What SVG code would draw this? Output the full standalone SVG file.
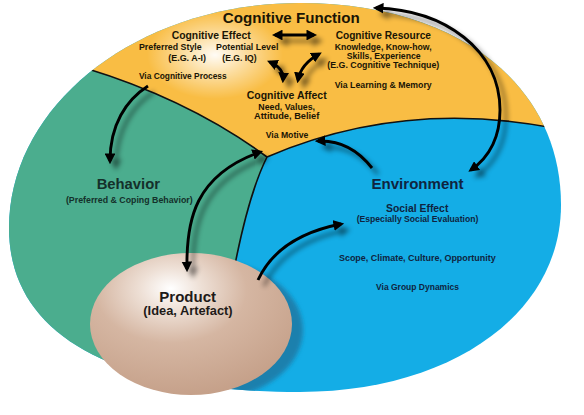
<svg xmlns="http://www.w3.org/2000/svg" width="584" height="415" viewBox="0 0 584 415">
<defs>
<style>
text { font-family: "Liberation Sans", Arial, sans-serif; font-weight: bold; text-anchor: middle; }
.t1 { font-size: 15px; }
.t2 { font-size: 11px; }
.t3 { font-size: 9.2px; }
.dk { fill: #1a1505; }
.nv { fill: #0f2440; }
.gr { fill: #14302a; }
.pr { fill: #1e1a18; }
.edge { fill: none; stroke: #111; stroke-width: 1.6; }
.arr { fill: none; stroke: #000; stroke-width: 2.9; }
</style>
<path id="outline" d="M300,3 C456.6,3 561,83.8 561,205 C561,313.5 451.4,392 300,392 C111.9,392 9,334.6 9,228 C9,103.7 139.3,3 300,3 Z"/>
<clipPath id="clip"><use href="#outline"/></clipPath>
<marker id="ah" viewBox="0 0 10 10" refX="7" refY="5" markerWidth="3.7" markerHeight="3.7" orient="auto-start-reverse" markerUnits="strokeWidth"><path d="M0,0 L10,5 L0,10 Z" fill="#000"/></marker>
<filter id="blur" x="-30%" y="-30%" width="160%" height="160%"><feGaussianBlur stdDeviation="2.8"/></filter>
<filter id="blur2" x="-20%" y="-20%" width="140%" height="140%"><feGaussianBlur stdDeviation="2"/></filter>
<radialGradient id="glow" cx="0.5" cy="0.5" r="0.5">
<stop offset="0" stop-color="#fff" stop-opacity="0.95"/>
<stop offset="0.45" stop-color="#fff" stop-opacity="0.5"/>
<stop offset="1" stop-color="#fff" stop-opacity="0"/>
</radialGradient>
<radialGradient id="pg" cx="0.4" cy="0.27" r="0.75" fx="0.4" fy="0.25">
<stop offset="0" stop-color="#ffffff"/>
<stop offset="0.2" stop-color="#eee0d6"/>
<stop offset="0.5" stop-color="#d5b6a2"/>
<stop offset="1" stop-color="#c5a089"/>
</radialGradient>
</defs>

<g id="environment">
<use href="#outline" fill="#14ade6"/>
<text class="t1 nv" x="417.5" y="189" textLength="92" lengthAdjust="spacingAndGlyphs">Environment</text>
<text class="t2 nv" x="417.2" y="211.7" textLength="62.3" lengthAdjust="spacingAndGlyphs">Social Effect</text>
<text class="t3 nv" x="417.5" y="221.7" textLength="121.7" lengthAdjust="spacingAndGlyphs">(Especially Social Evaluation)</text>
<text class="t3 nv" x="417.3" y="260.7" textLength="156.7" lengthAdjust="spacingAndGlyphs">Scope, Climate, Culture, Opportunity</text>
</g>

<g id="cognitive-function">
<path clip-path="url(#clip)" fill="#f9bd44" d="M-10,40 L85,68 Q190,100 267,157 Q400,100 548,127 L600,137 L600,-10 L-10,-10 Z"/>
<ellipse cx="215" cy="55" rx="68" ry="44" fill="url(#glow)"/>
<text class="t1 dk" x="291.3" y="23.3" textLength="137" lengthAdjust="spacingAndGlyphs">Cognitive Function</text>
<text class="t2 dk" x="211.2" y="39.3" textLength="79" lengthAdjust="spacingAndGlyphs">Cognitive Effect</text>
<text class="t3 dk" x="170.3" y="50" textLength="62.7" lengthAdjust="spacingAndGlyphs">Preferred Style</text>
<text class="t3 dk" x="247.2" y="50" textLength="62.3" lengthAdjust="spacingAndGlyphs">Potential Level</text>
<text class="t3 dk" x="187.2" y="60.7" textLength="37.7" lengthAdjust="spacingAndGlyphs">(E.G. A-I)</text>
<text class="t3 dk" x="239.5" y="60.7" textLength="34.3" lengthAdjust="spacingAndGlyphs">(E.G. IQ)</text>
<text class="t2 dk" x="286.7" y="99.3" textLength="80" lengthAdjust="spacingAndGlyphs">Cognitive Affect</text>
<text class="t3 dk" x="286.7" y="110" textLength="56.7" lengthAdjust="spacingAndGlyphs">Need, Values,</text>
<text class="t3 dk" x="286.7" y="119.3" textLength="65.3" lengthAdjust="spacingAndGlyphs">Attitude, Belief</text>
<text class="t2 dk" x="383.3" y="39.3" textLength="95.3" lengthAdjust="spacingAndGlyphs">Cognitive Resource</text>
<text class="t3 dk" x="383.2" y="50" textLength="97" lengthAdjust="spacingAndGlyphs">Knowledge, Know-how,</text>
<text class="t3 dk" x="383.7" y="59.3" textLength="74" lengthAdjust="spacingAndGlyphs">Skills, Experience</text>
<text class="t3 dk" x="383.3" y="68.3" textLength="112" lengthAdjust="spacingAndGlyphs">(E.G. Cognitive Technique)</text>
</g>

<g id="behavior">
<path clip-path="url(#clip)" fill="#4bad8e" d="M-10,40 L85,68 Q190,100 267,157 Q248,195 233,275 L222,410 L-10,410 Z"/>
<text class="t1 gr" x="128.3" y="189.3" textLength="63.3" lengthAdjust="spacingAndGlyphs">Behavior</text>
<text class="t3 gr" x="129.3" y="203.3" textLength="126.7" lengthAdjust="spacingAndGlyphs">(Preferred &amp; Coping Behavior)</text>
</g>

<g id="boundaries" clip-path="url(#clip)">
<path class="edge" d="M85,68 Q190,100 267,157"/>
<path class="edge" d="M267,157 Q400,100 548,127 L565,130"/>
<path class="edge" d="M267,157 Q248,195 233,275 L226,330"/>
</g>

<g id="product">
<ellipse cx="202" cy="330" rx="101" ry="71" fill="#1b80ad" clip-path="url(#clip)" filter="url(#blur2)"/>
<ellipse cx="191" cy="324" rx="101" ry="71" fill="url(#pg)"/>
<text class="t1 pr" x="187.7" y="301.7" textLength="56.7" lengthAdjust="spacingAndGlyphs">Product</text>
<text class="pr" style="font-size:12px" x="188" y="315" textLength="89.3" lengthAdjust="spacingAndGlyphs">(Idea, Artefact)</text>
</g>

<g id="connectors">
<g opacity="0.5" filter="url(#blur)" transform="translate(6,6)">
<path class="arr" d="M275,35 L314,35" marker-start="url(#ah)" marker-end="url(#ah)"/>
<path class="arr" d="M270,62 Q284,68 283,80" marker-start="url(#ah)" marker-end="url(#ah)"/>
<path class="arr" d="M319,54 Q301,64 298,80" marker-start="url(#ah)" marker-end="url(#ah)"/>
<path class="arr" d="M148,86 C126,100 110,125 110,161" marker-end="url(#ah)"/>
<path class="arr" d="M187,269 C186,220 195,175 260,152" marker-start="url(#ah)" marker-end="url(#ah)"/>
<path class="arr" d="M258,280 C272,250 300,232 341,224" marker-end="url(#ah)"/>
<path class="arr" d="M372,168 C358,150 340,140 318,141" marker-end="url(#ah)"/>
<path class="arr" d="M376,8 C445,10 500,50 500,110 C500,140 488,158 471,170" marker-start="url(#ah)" marker-end="url(#ah)"/>
</g>
<path class="arr" d="M275,35 L314,35" marker-start="url(#ah)" marker-end="url(#ah)"/>
<path class="arr" d="M270,62 Q284,68 283,80" marker-start="url(#ah)" marker-end="url(#ah)"/>
<path class="arr" d="M319,54 Q301,64 298,80" marker-start="url(#ah)" marker-end="url(#ah)"/>
<path class="arr" d="M148,86 C126,100 110,125 110,161" marker-end="url(#ah)"/>
<path class="arr" d="M187,269 C186,220 195,175 260,152" marker-start="url(#ah)" marker-end="url(#ah)"/>
<path class="arr" d="M258,280 C272,250 300,232 341,224" marker-end="url(#ah)"/>
<path class="arr" d="M372,168 C358,150 340,140 318,141" marker-end="url(#ah)"/>
<path class="arr" d="M376,8 C445,10 500,50 500,110 C500,140 488,158 471,170" marker-start="url(#ah)" marker-end="url(#ah)"/>
<text class="t3 dk" x="182.8" y="79.3" textLength="87.7" lengthAdjust="spacingAndGlyphs">Via Cognitive Process</text>
<text class="t3 dk" x="287" y="138.3" textLength="42.7" lengthAdjust="spacingAndGlyphs">Via Motive</text>
<text class="t3 dk" x="383.2" y="88.3" textLength="97" lengthAdjust="spacingAndGlyphs">Via Learning &amp; Memory</text>
<text class="t3 nv" x="417.5" y="290" textLength="83" lengthAdjust="spacingAndGlyphs">Via Group Dynamics</text>
</g>
</svg>
